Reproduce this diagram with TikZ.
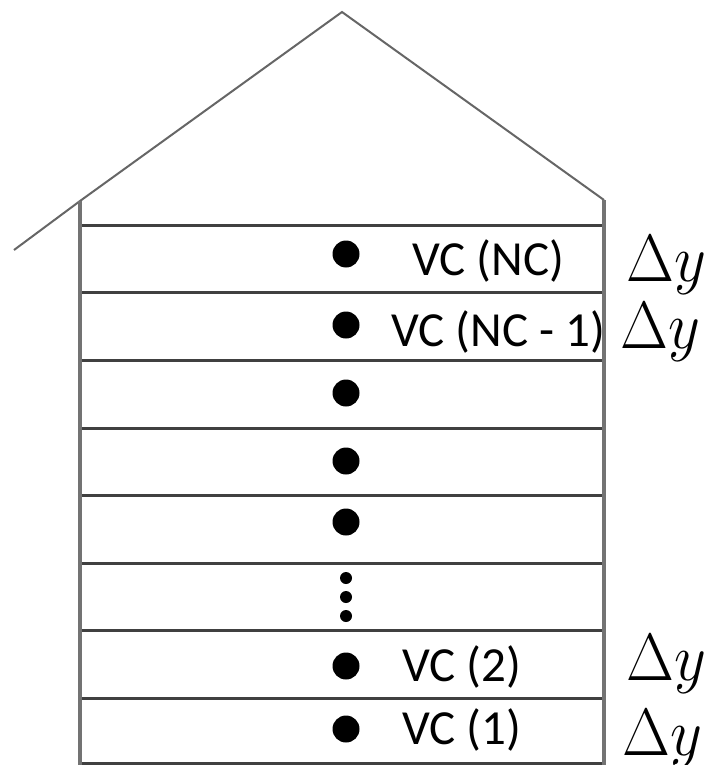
\RequirePackage{fix-cm}
\documentclass[tikz,border=0pt]{standalone}
\usepackage{fontspec}
\newfontfamily\vcfont{Carlito}
\begin{document}
\begin{tikzpicture}[x=1pt,y=-1pt,
  wall/.style={draw=black!55,line width=3.2pt},
  floorline/.style={draw=black!75,line width=3pt},
  roof/.style={draw=black!60,line width=2pt},
  bigdot/.style={circle,fill=black,inner sep=0pt,minimum size=27pt},
  smalldot/.style={circle,fill=black,inner sep=0pt,minimum size=12pt},
  vclabel/.style={anchor=base west,inner sep=0pt,font=\vcfont\fontsize{49}{54}\selectfont},
  dylabel/.style={anchor=base west,inner sep=0pt,yscale=1.08,font=\fontsize{62}{66}\selectfont}]
\useasboundingbox (0,0) rectangle (713,765);
% roof
\coordinate (rl) at (14,250);
\coordinate (wl) at (80,201);
\coordinate (apex) at (342,12);
\coordinate (wr) at (604,200);
\draw[roof] (rl) -- (wl) -- (apex) -- (wr);
% floor lines
\foreach \yy in {225,292,360,428,495,563,630,698,763}
  \draw[floorline] (80,\yy) -- (604,\yy);
% walls
\draw[wall] (wl) -- (80,765);
\draw[wall] (wr) -- (604,765);
% dots
\node[bigdot] (d8) at (346,254) {};
\node[bigdot] (d7) at (346,325) {};
\node[bigdot] (d6) at (346,393) {};
\node[bigdot] (d5) at (346,461) {};
\node[bigdot] (d4) at (346,522) {};
\node[smalldot] (e1) at (346,578) {};
\node[smalldot] (e2) at (346,597) {};
\node[smalldot] (e3) at (346,616) {};
\node[bigdot] (d2) at (346,666) {};
\node[bigdot] (d1) at (346,729) {};
% labels
\node[vclabel] (t8) at (412,275) {VC (NC)};
\node[vclabel] (t7) at (391,346) {VC (NC - 1)};
\node[vclabel] (t2) at (402,681) {VC (2)};
\node[vclabel] (t1) at (402,744) {VC (1)};
\node[dylabel] (y8) at (626,281) {$\Delta y$};
\node[dylabel] (y7) at (620,348) {$\Delta y$};
\node[dylabel] (y2) at (626,680) {$\Delta y$};
\node[dylabel] (y1) at (622,755) {$\Delta y$};
\end{tikzpicture}
\end{document}
